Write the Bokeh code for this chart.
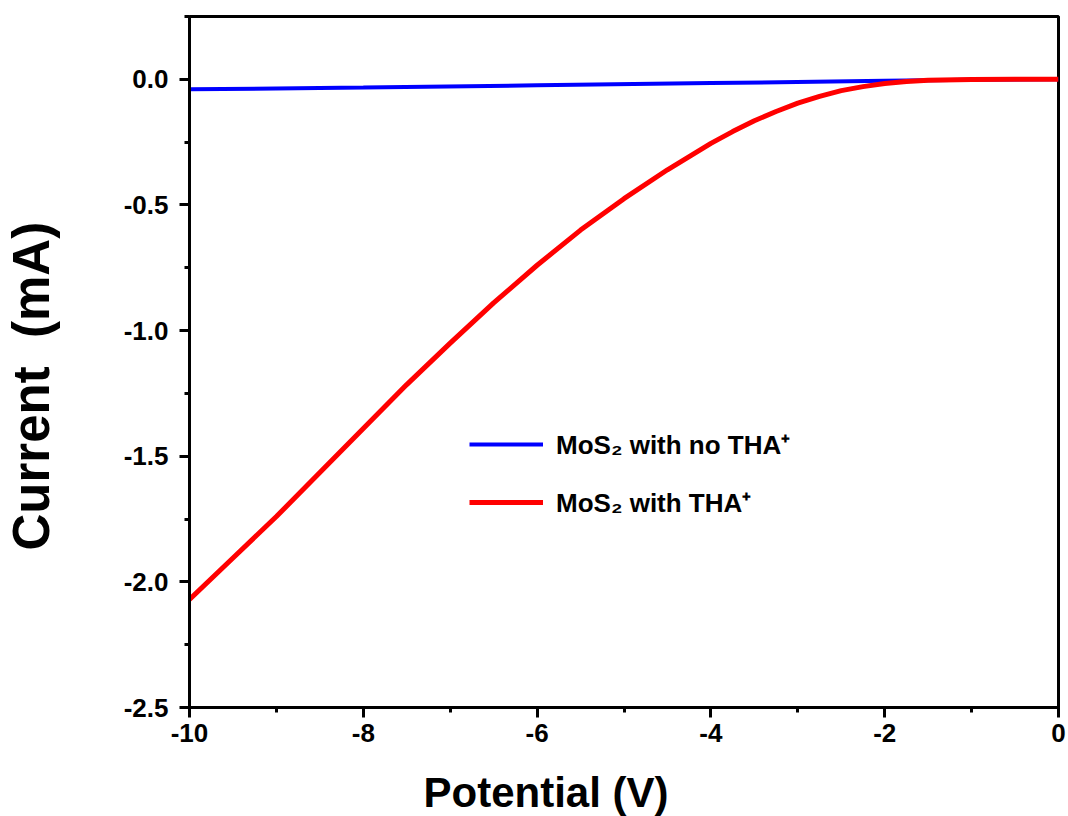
from bokeh.plotting import figure
from bokeh.models import (Range1d, SingleIntervalTicker, PrintfTickFormatter,
                          Legend, LegendItem, Title)
from bokeh.embed import file_html
from bokeh.resources import INLINE

# data
potential = [-10, -9.5, -9, -8.5, -8, -7.5, -7, -6.5, -6, -5.5, -5, -4.5, -4,
             -3.75, -3.5, -3.25, -3, -2.75, -2.5, -2.25, -2, -1.75, -1.5, -1,
             -0.5, 0]
current_with_tha = [-2.07, -1.905, -1.74, -1.565, -1.39, -1.215, -1.05, -0.89,
                    -0.74, -0.60, -0.475, -0.36, -0.255, -0.208, -0.165, -0.128,
                    -0.095, -0.068, -0.045, -0.029, -0.017, -0.009, -0.004,
                    -0.001, 0.0, 0.0]
potential_no = [-10, -8, -6, -4, -2, -1, 0]
current_no_tha = [-0.040, -0.033, -0.024, -0.015, -0.006, -0.002, 0.0]

label_no = "MoS\u2082 with no THA\u207a"
label_with = "MoS\u2082 with THA\u207a"
x_title = "Potential (V)"
y_title = "Current \u00a0(mA)"

FONT = "Liberation Sans"

p = figure(width=1068, height=816, output_backend="svg", toolbar_location=None,
           x_range=Range1d(-10, 0), y_range=Range1d(-2.5, 0.25),
           min_border_left=189, min_border_right=10, min_border_top=16,
           min_border_bottom=109)
p.grid.visible = False
p.outline_line_color = "black"
p.outline_line_width = 3
p.background_fill_color = "white"
p.border_fill_color = "white"

r_no = p.line(potential_no, current_no_tha, line_color="#0000FF", line_width=4)
r_with = p.line(potential, current_with_tha, line_color="#FF0000", line_width=5,
                line_join="round")

xa = p.xaxis[0]
xa.ticker = SingleIntervalTicker(interval=2, num_minor_ticks=2)
xa.formatter = PrintfTickFormatter(format="%d")
ya = p.yaxis[0]
ya.ticker = SingleIntervalTicker(interval=0.5, num_minor_ticks=2)
ya.formatter = PrintfTickFormatter(format="%.1f")

for ax in (xa, ya):
    ax.axis_line_width = 3
    ax.axis_line_color = "black"
    ax.major_tick_line_width = 3
    ax.major_tick_out = 10
    ax.major_tick_in = 0
    ax.minor_tick_line_width = 3
    ax.minor_tick_out = 5
    ax.minor_tick_in = 0
    ax.major_label_text_font = FONT
    ax.major_label_text_font_style = "bold"
    ax.major_label_text_font_size = "26px"
    ax.major_label_text_color = "black"

xa.major_label_standoff = 6
ya.major_label_standoff = 11

# spacers between the axes and their titles
p.add_layout(Title(text=" ", text_font_size="1px", standoff=19), "below")
p.add_layout(Title(text=" ", text_font_size="1px", standoff=58), "left")

# axis titles as side titles so they can be offset like the original
p.add_layout(Title(text=x_title, align="left", offset=234, standoff=0,
                   text_font=FONT, text_font_style="bold",
                   text_font_size="42px", text_color="black"), "below")
p.add_layout(Title(text=y_title, align="left", offset=157, standoff=0,
                   text_font=FONT, text_font_style="bold",
                   text_font_size="51px", text_color="black"), "left")

legend = Legend(items=[LegendItem(label=label_no, renderers=[r_no]),
                       LegendItem(label=label_with, renderers=[r_with])],
                location=(280, 187), border_line_color=None,
                background_fill_alpha=0, padding=0, margin=0,
                glyph_width=74, glyph_height=20, label_standoff=13,
                spacing=22, label_text_font=FONT, label_text_font_style="bold",
                label_text_font_size="26px", label_text_color="black")
p.add_layout(legend, "center")

open("out.html", "w").write(file_html(p, INLINE))
